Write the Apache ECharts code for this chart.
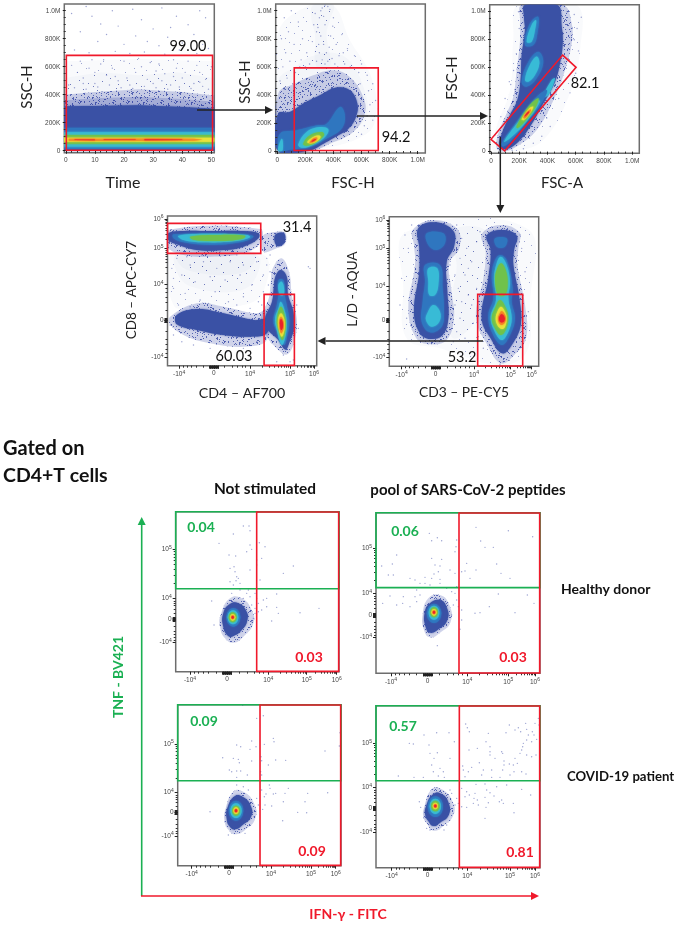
<!DOCTYPE html>
<html><head><meta charset="utf-8">
<style>html,body{margin:0;padding:0;background:#fff}#c{width:681px;height:929px;filter:blur(0.35px)}</style>
<script src="https://cdn.jsdelivr.net/npm/echarts@6/dist/echarts.min.js"></script>
</head><body><div id="c"></div>
<script>
// ---------- tick labels ----------
const linearYTicks = [0, 200000, 400000, 600000, 800000, 1000000];
const timeTicks = [0, 10, 20, 30, 40, 50];
const biexXLabels = ['-4', '0', '4', '5', '6'];
const biexYLabels6 = ['6', '5', '4', '0', '-4'];
const biexYLabels5 = ['5', '4', '0', '-4'];

// ---------- density contours: [level, [x,y], ...] ----------
const timeDensity = [
 [0,[-0.5,0],[51,0],[51,640],[25,655],[-0.5,640]],
 [0,[-0.5,0],[51,0],[51,520],[38,560],[25,540],[12,560],[-0.5,520]],
 [1,[-0.5,0],[51,0],[51,395],[40,420],[25,440],[10,420],[-0.5,400]],
 [1,[-0.5,0],[51,0],[51,350],[40,370],[25,385],[10,375],[-0.5,360]],
 [2,[-0.5,0],[51,0],[51,300],[40,312],[25,325],[10,320],[-0.5,318]],
 [3,[-0.5,12],[51,12],[51,165],[-0.5,165]],
 [4,[-0.5,30],[51,30],[51,132],[-0.5,132]],
 [5,[-0.5,50],[51,50],[51,112],[-0.5,112]],
 [6,[-0.5,64],[51,64],[51,92],[-0.5,92]],
 [7,[1,72],[12,70],[20,71],[32,70],[44,72],[47,78],[44,86],[30,88],[18,86],[1,85]],
 [8,[3,76],[10,75],[10,80],[3,81]],
 [8,[13,77],[24,76],[24,81],[13,80]],
 [8,[27,75],[40,76],[40,81],[27,82]]
];
const fscDensity = [
 [0,[7,838],[233,1040],[399,1040],[517,790],[660,552],[707,290],[636,124],[256,5],[7,0]],
 [0,[256,1040],[399,1040],[375,933],[351,838],[375,600],[280,600],[268,838],[244,933]],
 [0,[7,500],[126,600],[256,680],[399,700],[517,640],[612,460],[640,267],[541,136],[375,52],[256,5],[7,0]],
 [1,[7,409],[126,481],[256,540],[399,576],[517,528],[612,386],[624,267],[541,136],[375,52],[256,5],[7,0]],
 [2,[7,267],[90,278],[185,338],[304,397],[423,452],[517,433],[570,338],[560,243],[506,159],[434,112],[328,52],[233,5],[7,0]],
 [3,[19,124],[138,148],[280,183],[351,195],[446,314],[482,255],[458,159],[351,88],[233,29],[90,10],[19,5]],
 [4,[150,48],[209,136],[304,171],[363,155],[340,100],[245,40],[173,24]],
 [4,[5,5],[33,88],[38,5]],
 [5,[185,52],[233,112],[316,136],[333,112],[269,57],[204,38]],
 [6,[214,62],[257,100],[304,109],[304,90],[257,57]],
 [7,[228,57],[257,90],[285,95],[280,81],[252,62]],
 [8,[243,69],[261,83],[275,86],[271,79],[249,67]]
];
const fscAreaDensity = [
 [0,[194,1048],[607,1048],[631,726],[560,417],[371,83],[158,0],[17,0],[40,179],[135,440],[158,798]],
 [1,[217,1048],[513,1048],[572,917],[572,774],[525,583],[454,393],[324,155],[182,36],[87,0],[40,24],[52,131],[111,274],[158,393],[182,583],[206,798],[206,940]],
 [2,[241,1048],[470,1048],[501,893],[508,774],[489,631],[454,500],[371,345],[277,179],[194,71],[111,19],[59,36],[78,131],[135,262],[187,369],[210,512],[217,679],[241,869],[234,964]],
 [3,[241,762],[276,917],[335,964],[329,845],[300,762]],
 [4,[253,786],[288,905],[319,940],[312,869],[288,786]],
 [3,[217,500],[265,643],[335,714],[371,643],[324,524],[253,464]],
 [4,[241,512],[276,619],[324,679],[343,631],[312,548],[265,500]],
 [4,[371,393],[430,512],[454,524],[407,405]],
 [3,[76,60],[182,214],[312,381],[395,440],[359,345],[253,214],[147,83],[87,36]],
 [4,[92,71],[194,214],[324,369],[347,357],[241,202],[135,95]],
 [5,[182,183],[265,321],[336,381],[312,310],[229,202],[187,167]],
 [6,[217,231],[272,310],[300,321],[276,274],[234,226]],
 [7,[229,245],[272,298],[284,298],[265,269],[241,238]],
 [8,[236,250],[265,286],[272,283],[253,262]]
];
const cd4Density = [
 [0,[180,150],[460,150],[460,260],[400,300],[250,310],[190,300]],
 [0,[200,150],[440,150],[430,230],[370,260],[260,250],[210,220]],
 [0,[200,140],[430,140],[420,190],[350,210],[250,200],[210,180]],
 [1,[172,75],[450,72],[450,115],[400,145],[300,155],[220,150],[172,125]],
 [2,[175,85],[215,78],[300,78],[400,78],[445,85],[445,100],[400,125],[340,135],[260,135],[200,118],[175,105]],
 [3,[190,88],[400,88],[430,95],[390,112],[300,120],[220,112],[190,100]],
 [4,[205,92],[300,86],[410,90],[420,97],[380,108],[280,112],[220,105]],
 [5,[240,95],[320,90],[405,92],[395,102],[320,108],[250,104]],
 [1,[455,95],[500,80],[525,85],[525,115],[500,130],[460,140]],
 [2,[495,90],[522,85],[522,115],[500,122]],
 [1,[180,335],[260,295],[340,305],[440,325],[470,315],[470,405],[400,425],[300,415],[220,390],[180,358]],
 [2,[200,330],[260,312],[340,325],[430,345],[470,345],[470,385],[420,395],[340,390],[260,375],[200,358]],
 [1,[488,190],[515,160],[538,205],[545,270],[560,340],[555,400],[532,448],[498,428],[462,382],[452,340],[476,280],[482,230]],
 [2,[496,215],[512,195],[530,215],[534,270],[550,320],[552,370],[538,412],[526,434],[503,403],[472,372],[465,340],[486,290],[491,250]],
 [3,[505,225],[520,225],[525,275],[530,300],[538,350],[530,400],[522,420],[505,385],[490,350],[500,300],[505,270]],
 [4,[505,240],[515,230],[522,250],[520,270],[510,270]],
 [4,[512,290],[525,320],[530,360],[525,400],[515,420],[500,375],[495,340],[505,310]],
 [5,[512,305],[525,335],[527,370],[517,405],[505,375],[500,345]],
 [6,[513,325],[523,345],[523,375],[515,395],[505,365],[505,340]],
 [7,[513,335],[520,350],[520,372],[513,385],[508,365],[508,345]],
 [8,[513,342],[518,352],[518,368],[513,375],[510,360],[510,348]]
];
const cd3Density = [
 [0,[200,80],[560,70],[570,300],[560,440],[480,480],[300,430],[200,400],[190,250]],
 [0,[330,80],[440,80],[430,220],[410,340],[340,400],[330,300],[350,180]],
 [1,[218,75],[280,45],[352,72],[358,130],[328,175],[335,260],[342,340],[320,405],[270,418],[228,398],[205,310],[225,180],[222,120]],
 [2,[235,70],[285,52],[340,78],[342,125],[320,170],[322,260],[325,340],[308,390],[270,402],[240,385],[222,320],[238,200],[238,130]],
 [3,[260,85],[310,85],[315,115],[290,135],[265,120]],
 [3,[255,180],[300,180],[308,250],[312,320],[305,365],[270,382],[245,350],[248,290],[255,230]],
 [4,[265,190],[292,190],[295,240],[285,270],[268,270],[265,230]],
 [4,[262,325],[280,300],[300,320],[298,350],[275,365],[258,345]],
 [1,[425,88],[480,60],[538,82],[535,130],[532,180],[555,300],[558,400],[518,455],[482,475],[445,425],[408,340],[430,220],[437,140]],
 [2,[440,92],[485,75],[530,92],[522,135],[520,180],[538,280],[542,360],[515,420],[487,445],[455,405],[425,340],[445,220],[452,135]],
 [3,[465,100],[500,100],[495,125],[470,125]],
 [3,[480,150],[500,165],[518,250],[515,290],[525,340],[510,390],[485,420],[455,380],[445,330],[460,280],[455,210],[465,165]],
 [4,[482,155],[498,175],[510,230],[505,280],[515,340],[505,380],[485,405],[462,375],[452,335],[468,285],[462,220],[470,175]],
 [5,[483,175],[497,195],[503,235],[495,270],[475,270],[465,225],[470,195]],
 [5,[480,285],[498,310],[505,340],[497,375],[482,390],[465,370],[455,340],[465,310]],
 [6,[483,305],[495,320],[500,340],[495,365],[485,372],[472,360],[467,340],[473,318]],
 [7,[485,318],[495,330],[497,345],[490,358],[480,358],[474,342],[478,328]],
 [8,[485,328],[493,335],[494,345],[488,352],[480,350],[477,340],[480,332]]
];
// small panels: outer contours, then nested ellipses [level, cx, cy, rx, ry]
const notStimHealthyDensity = [
 [1,[272,375],[300,325],[335,325],[365,360],[370,400],[340,440],[310,458],[285,445],[270,410]],
 [2,[280,370],[300,342],[325,340],[348,362],[352,390],[335,420],[310,438],[295,438],[280,410]]
];
const notStimHealthyCore = [[3,310,382,21,28],[4,309,382,16,21],[5,308,382,12,15],[6,308,382,8,10],[7,308,382,5,6],[8,308,382,3.5,4]];
const stimHealthyDensity = [
 [1,[188,375],[205,325],[240,315],[268,345],[272,395],[240,428],[210,442],[192,420]],
 [2,[194,370],[210,340],[240,330],[260,352],[262,390],[235,418],[210,428],[197,410]]
];
const stimHealthyCore = [[3,222,370,22,29],[4,222,368,16,21],[5,222,367,12,15],[6,222,367,8,10],[7,222,367,5,6],[8,222,367,3.5,4]];
const notStimPatientDensity = [
 [1,[286,360],[310,305],[340,305],[372,340],[376,385],[345,420],[315,433],[296,420],[284,395]],
 [2,[292,355],[315,318],[340,322],[363,350],[363,380],[340,403],[315,418],[298,408],[290,385]]
];
const notStimPatientCore = [[3,318,362,22,30],[4,318,362,17,22],[5,318,362,12,15],[6,318,362,8,10],[7,318,362,5,6],[8,318,362,3.5,4]];
const stimPatientDensity = [
 [1,[222,355],[245,298],[275,298],[308,335],[310,375],[280,408],[250,422],[230,400],[220,380]],
 [2,[228,350],[250,312],[275,312],[296,340],[296,375],[270,398],[250,408],[235,393],[226,375]]
];
const stimPatientCore = [[3,256,350,23,31],[4,256,349,17,23],[5,256,348,13,16],[6,256,348,8,10],[7,256,348,5,6],[8,256,348,3.5,4]];

// ---------- sparse events ----------
const timeEvents = [[2,980],[7,1030],[9,960],[12,905],[16,1000],[18,890],[23,1010],[26,935],[30,870],[33,1020],[36,880],[38,960],[42,900],[46,1000],[48,950],[5,850],[11,780],[14,830],[20,760],[24,820],[28,780],[32,750],[35,810],[40,770],[44,830],[47,760],[3,720],[8,700],[17,710],[22,695],[27,705],[34,690],[39,720],[45,695],[49,730],[2,610],[4,560],[6,520],[8,590],[10,480],[12,620],[14,540],[16,590],[18,500],[20,640],[22,470],[24,560],[26,600],[28,510],[30,480],[32,620],[34,550],[36,470],[38,590],[40,520],[42,640],[44,480],[46,560],[48,510],[50,600],[1,470],[3,450],[7,440],[11,455],[15,470],[19,450],[23,445],[27,460],[31,450],[35,440],[39,455],[43,445],[47,460],[49,440],[5,640],[13,650],[25,660],[37,650],[45,610],[9,650],[29,630],[6,480],[17,530],[21,520],[33,500],[41,560],[46,490],[10,560],[31,570],[37,530]];
const fscEvents = [[50,950],[100,1000],[30,800],[80,850],[150,920],[60,700],[120,760],[180,800],[40,600],[90,640],[20,500],[70,520],[130,560],[170,650],[210,700],[250,780],[280,850],[300,950],[320,1020],[340,900],[360,1030],[380,820],[400,950],[420,760],[440,680],[460,830],[480,620],[500,730],[520,600],[550,680],[580,560],[600,620],[640,540],[680,480],[700,360],[720,300],[650,430],[620,180],[600,120],[680,220],[260,900],[270,980],[290,880],[310,820],[330,760],[350,700],[370,740],[300,700],[280,640],[320,650],[340,620],[360,640],[390,660],[410,620],[430,600],[230,620],[200,600],[160,600],[110,480],[50,440],[470,700],[540,500],[590,480],[660,330],[640,250],[310,1000],[340,1040],[330,960],[375,1010],[395,890],[295,760]];
const fscAreaEvents = [[180,700],[160,580],[140,480],[100,380],[70,250],[30,120],[560,420],[600,560],[620,720],[610,880],[640,960],[590,980],[130,500],[520,640],[420,180],[360,110],[300,60],[230,20],[150,10],[590,800],[540,1000],[200,880],[195,1000],[480,380],[395,240]];
const cd4Events = [[200,160],[240,180],[280,170],[320,190],[360,170],[400,180],[440,170],[215,210],[255,230],[300,215],[345,225],[390,210],[425,240],[225,265],[270,285],[315,260],[355,290],[400,275],[445,290],[190,250],[205,300],[460,210],[470,180],[185,190],[595,185],[600,190],[480,150],[470,160],[540,270],[560,300],[565,370],[550,465],[540,470],[500,470],[520,450],[180,360],[190,390],[215,410],[250,420],[300,430],[350,440],[400,430],[440,410],[455,300],[460,260],[475,240],[480,200],[190,220],[330,140],[380,150],[420,145],[230,155],[275,150],[420,310],[380,300],[295,295],[240,305]];
const cd3Events = [[195,90],[185,220],[200,340],[180,300],[205,130],[215,60],[350,60],[365,100],[380,130],[395,170],[410,110],[420,80],[360,160],[375,210],[355,250],[345,300],[360,340],[350,380],[375,400],[340,410],[395,300],[410,250],[385,270],[400,355],[415,395],[430,430],[490,470],[480,478],[200,462],[545,130],[555,200],[565,320],[540,90],[365,290],[385,190],[330,180],[345,210]];
const notStimHealthyEvents = [[340,108],[357,108],[360,122],[310,132],[267,160],[360,165],[388,158],[405,170],[365,178],[297,195],[317,198],[350,185],[395,205],[380,210],[300,235],[312,230],[315,245],[360,240],[380,225],[320,260],[300,275],[330,280],[310,285],[390,270],[460,250],[490,228],[410,325],[440,312],[400,330],[385,340],[410,350],[395,360],[440,352],[445,370],[510,368],[567,355],[425,393],[365,395],[375,370],[245,333],[252,405],[270,405],[350,310],[360,320],[375,310],[340,325],[330,300],[355,300],[380,325],[305,310],[365,345],[375,355],[385,365],[370,385],[325,265],[318,272]];
const stimHealthyEvents = [[208,130],[232,143],[245,152],[215,152],[290,150],[288,170],[285,185],[348,112],[362,153],[375,172],[400,172],[445,122],[518,140],[110,195],[97,222],[65,228],[100,255],[85,255],[215,205],[245,208],[225,225],[240,228],[235,245],[222,252],[195,262],[215,265],[240,268],[270,240],[285,250],[305,245],[320,220],[315,243],[348,240],[330,265],[410,222],[423,250],[450,265],[150,265],[165,270],[180,280],[195,280],[210,285],[240,280],[290,290],[130,320],[128,340],[110,345],[90,318],[68,340],[415,312],[502,315],[522,340],[465,368],[388,350],[360,368],[345,370],[305,390],[300,418],[232,467],[165,320],[170,335],[150,350],[285,310],[290,330],[295,350],[280,345],[275,375],[305,360],[170,300],[180,315],[260,295],[275,305]];
const notStimPatientEvents = [[338,46],[380,85],[400,77],[365,153],[430,145],[432,155],[320,165],[332,170],[360,178],[378,170],[403,163],[278,203],[310,205],[325,208],[328,218],[365,213],[393,200],[395,212],[437,210],[467,211],[585,183],[628,168],[630,128],[298,240],[305,245],[320,243],[332,243],[352,255],[320,262],[392,245],[395,255],[415,225],[418,285],[420,295],[395,300],[403,320],[408,312],[430,312],[437,310],[475,295],[465,310],[533,310],[593,308],[525,335],[503,367],[530,368],[458,392],[240,365],[405,345],[425,348],[398,358],[460,335],[320,285],[340,290],[355,300],[380,325],[385,345],[372,380],[345,430],[295,435]];
const stimPatientEvents = [[347,102],[352,113],[358,125],[478,105],[495,120],[505,113],[512,125],[527,100],[555,100],[565,85],[567,105],[530,118],[547,125],[468,128],[415,130],[408,155],[382,175],[357,180],[420,170],[420,185],[420,195],[455,185],[458,190],[435,205],[462,213],[495,205],[510,190],[518,170],[530,150],[545,155],[560,148],[535,135],[552,135],[558,195],[545,200],[530,195],[515,180],[520,160],[388,218],[338,228],[365,232],[340,240],[355,245],[400,240],[425,240],[458,240],[478,222],[490,225],[502,220],[462,225],[492,245],[515,245],[528,252],[480,255],[450,262],[425,262],[395,255],[345,260],[222,135],[297,128],[260,128],[237,165],[313,155],[178,160],[190,162],[240,190],[262,188],[252,205],[300,205],[245,225],[270,235],[250,245],[280,245],[265,258],[283,262],[145,258],[192,262],[220,262],[335,295],[350,305],[378,283],[405,282],[440,290],[470,285],[515,298],[410,300],[420,308],[375,310],[358,315],[345,320],[372,325],[382,330],[405,322],[432,318],[455,330],[460,340],[490,340],[542,315],[335,350],[350,352],[370,340],[385,345],[408,352],[415,338],[492,368],[405,385],[448,335],[320,325],[315,345],[325,340],[310,370],[208,335],[212,352],[230,415],[240,420],[290,405],[282,420],[300,300],[305,310]];

// ---------- gates ----------
const timeGate = [[0.2,681],[50.4,681],[50.4,3],[0.2,3]];
const fscGate = [[121,593],[719,593],[719,4],[121,4]];
const fscAreaGate = [[508,690],[603,602],[97,5],[0,88]];
const cd8Gate = [[172,55],[452,55],[452,145],[172,145]];
const cd4Gate = [[462,268],[553,268],[553,481],[462,481]];
const cd3Gate = [[413,268],[548,268],[548,483],[413,483]];
const quadGatesGreenLine = {F:296,G:293,H:272,I:272};
const quadGatesRedLeft = {F:380,G:297,H:390,I:328};

// ---------- colours / styles ----------
const GREEN='#1bb053', RED='#f0192b', DOT='#4a57ad';
// speckle texture for the low-density fringe of a flow plot (decoration only)
const speckleTile = [[3,5],[11,2],[19,8],[27,3],[36,6],[44,1],[7,13],[15,17],[24,12],[33,15],[41,11],[2,22],[10,26],[18,21],[29,24],[38,20],[46,27],[6,33],[14,30],[22,36],[31,32],[40,35],[1,42],[12,44],[20,40],[28,46],[35,41],[45,38]];
function makeTile(bg,dot,shifts){
 const c=document.createElement('canvas');c.width=c.height=48;const g=c.getContext('2d');
 g.fillStyle=bg;g.fillRect(0,0,48,48);g.fillStyle=dot;
 shifts.forEach(s=>speckleTile.forEach(p=>g.fillRect((p[0]+s[0])%48,(p[1]+s[1])%48,1,1)));
 return c;
}
const sparseFill={image:makeTile('rgba(72,86,172,0.03)','rgba(66,82,170,0.5)',[[0,0]]),repeat:'repeat'};
const denseFill={image:makeTile('rgba(62,80,170,0.25)','rgba(66,82,170,0.85)',[[0,0],[13,7],[25,19],[7,29],[31,11],[17,37],[41,23],[5,17],[37,43],[21,3],[29,33],[9,41]]),repeat:'repeat'};
const levelFill = [sparseFill,denseFill,'#3a51a5','#2f76bf','#38bbd6','#70c24b','#e9e23a','#f58b25','#e8222b'];

const panels = [
 {box:[64.3,4,150,148.7], x:[-0.5,51], y:[-14000,1048000], kind:'time', density:timeDensity.map(r=>[r[0],...r.slice(1).map(p=>[p[0],p[1]*1000])]), sm:0, events:timeEvents.map(p=>[p[0],p[1]*1000]), gates:[[timeGate.map(p=>[p[0],p[1]*1000]),RED]]},
 {box:[275.7,4,149.6,149], x:[-11000,1054000], y:[-14000,1048000], kind:'lin', density:fscDensity.map(r=>[r[0],...r.slice(1).map(p=>[p[0]*1000,p[1]*1000])]), sm:.4, events:fscEvents.map(p=>[p[0]*1000,p[1]*1000]), gates:[[fscGate.map(p=>[p[0]*1000,p[1]*1000]),RED]]},
 {box:[489.7,4.7,149.6,148.6], x:[-9000,1051000], y:[-12000,1050000], kind:'lin', density:fscAreaDensity.map(r=>[r[0],...r.slice(1).map(p=>[p[0]*1000,p[1]*1000])]), sm:.4, events:fscAreaEvents.map(p=>[p[0]*1000,p[1]*1000]), gates:[[fscAreaGate.map(p=>[p[0]*1000,p[1]*1000]),RED]]},
 {box:[167.5,216,149.2,149.7], x:[172,620], y:[33,482], xt:[207,311,420,540,612], yt:[42,130,238,347,457], yl:biexYLabels6, density:cd4Density, sm:.4, events:cd4Events, gates:[[cd8Gate,RED],[cd4Gate,RED]]},
 {box:[389.3,216.7,149.4,149.6], x:[148,596], y:[35,484], xt:[185,287,402,512,575], yt:[45,130,245,347,457], yl:biexYLabels6, density:cd3Density, sm:.4, events:cd3Events, gates:[[cd3Gate,RED]]},
 {box:[175.7,511.7,163.3,160], x:[137,627], y:[65,545], xt:[180,291,415,530,620], yt:[178,325,388,458], yl:biexYLabels5, density:notStimHealthyDensity, core:notStimHealthyCore, sm:.5, events:notStimHealthyEvents, q:'F'},
 {box:[376,512.7,164,160.6], x:[48,540], y:[68,550], xt:[93,203,322,445,525], yt:[175,310,375,443], yl:biexYLabels5, density:stimHealthyDensity, core:stimHealthyCore, sm:.5, events:stimHealthyEvents, q:'G'},
 {box:[177.7,704.7,163.3,161], x:[143,633], y:[44,527], xt:[185,297,423,543,617], yt:[162,307,368,438], yl:biexYLabels5, density:notStimPatientDensity, core:notStimPatientCore, sm:.5, events:notStimPatientEvents, q:'H'},
 {box:[376,705.7,164,162], x:[78,570], y:[47,533], xt:[125,233,352,480,555], yt:[160,293,355,427], yl:biexYLabels5, density:stimPatientDensity, core:stimPatientCore, sm:.5, events:stimPatientEvents, q:'I'}
];

const TICKFONT = {fontFamily:'Liberation Sans',fontSize:6.5,color:'#444'};
const supRich = {b:{fontFamily:'Liberation Sans',fontSize:6.5,color:'#444'},s:{fontFamily:'Liberation Sans',fontSize:5,color:'#444',padding:[0,0,4,0]}};
const biexFmt = (vals,labels)=>v=>{const l=labels[vals.indexOf(v)]; if(l==='0')return '{b|0}'; if(l===undefined) return ''; return l[0]==='-'?'{b|-10}{s|'+l.slice(1)+'}':'{b|10}{s|'+l+'}';};
const linFmt = v=> v===0?'0': v>=1e6?(v/1e6).toFixed(1)+'M': (v/1000)+'K';

function biexMinors(t,labels,isY){
 const out=[]; const z=labels.indexOf('0');
 const logs=[.301,.477,.602,.699,.778,.845,.903,.954];
 for(let i=0;i<t.length-1;i++){
  const a=t[i],b=t[i+1];
  if(i===z||i+1===z){
    const from=(i===z)?a:b, to=(i===z)?b:a;
    [.3,.5,.65,.78,.88].forEach(f=>out.push(from+(to-from)*f));
  } else {
    const lo=a,hi=b; logs.forEach(f=>out.push(isY?hi+(lo-hi)*f:lo+(hi-lo)*f));
  }
 }
 return out;
}
function zeroCluster(t,labels,half){const c=t[labels.indexOf('0')],o=[];for(let d=-half;d<=half;d+=2)o.push(c+d);return o;}

const grids=[],xAxes=[],yAxes=[],series=[];
panels.forEach((p,i)=>{
 grids.push({left:p.box[0],top:p.box[1],width:p.box[2],height:p.box[3],show:true,backgroundColor:'#fff',borderColor:'#6d6d6d',borderWidth:1.5,containLabel:false});
 const xi=xAxes.length, yi=yAxes.length;
 let xt,yt,xFmt,yFmt,xMinor,yMinor,xMaj,yMaj,inv=false;
 if(p.kind==='time'||p.kind==='lin'){
   yt=linearYTicks; yFmt=linFmt; yMaj=yt;
   yMinor=[50,100,150,250,300,350,450,500,550,650,700,750,850,900,950].map(v=>v*1000);
   if(p.kind==='time'){xt=timeTicks;xFmt=v=>''+v;xMaj=xt;xMinor=[2,4,6,8,12,14,16,18,22,24,26,28,32,34,36,38,42,44,46,48];}
   else {xt=linearYTicks;xFmt=linFmt;xMaj=xt;xMinor=yMinor;}
 } else {
   xt=p.xt;yt=p.yt;inv=true;
   xFmt=biexFmt(xt,biexXLabels);yFmt=biexFmt(yt,p.yl);
   xMaj=xt.concat(zeroCluster(xt,biexXLabels,14));yMaj=yt.concat(zeroCluster(yt,p.yl,6));
   xMinor=biexMinors(xt,biexXLabels,false);yMinor=biexMinors(yt,p.yl,true);
 }
 const base=(a)=>({type:'value',gridIndex:i,min:a[0],max:a[1],scale:true,splitLine:{show:false},axisLine:{show:false},z:3});
 xAxes.push({...base(p.x),position:'bottom',axisTick:{show:true,length:3,customValues:xMaj,lineStyle:{color:'#222',width:1}},axisLabel:{show:true,customValues:xt,formatter:xFmt,margin:4,hideOverlap:false,rich:supRich,...TICKFONT}});
 xAxes.push({...base(p.x),position:'bottom',axisTick:{show:true,length:2,customValues:xMinor,lineStyle:{color:'#333',width:1}},axisLabel:{show:false}});
 yAxes.push({...base(p.y),inverse:inv,position:'left',axisTick:{show:true,length:3,customValues:yMaj,lineStyle:{color:'#222',width:1}},axisLabel:{show:true,customValues:yt,formatter:yFmt,margin:4,hideOverlap:false,rich:supRich,...TICKFONT}});
 yAxes.push({...base(p.y),inverse:inv,position:'left',axisTick:{show:true,length:2,customValues:yMinor,lineStyle:{color:'#333',width:1}},axisLabel:{show:false}});

 const polys=p.density;
 series.push({type:'custom',xAxisIndex:xi,yAxisIndex:yi,clip:true,silent:true,z:2,data:polys.map(r=>[r[0]]),
  renderItem:(params,api)=>{
    const r=polys[params.dataIndex], fill=levelFill[r[0]];
    const st=r[0]>=2?{fill,shadowBlur:2,shadowColor:fill}:{fill};
    return {type:'polygon',shape:{points:r.slice(1).map(q=>api.coord(q)),smooth:p.sm},style:st};
  }});
 if(p.core){
  const core=p.core;
  series.push({type:'custom',xAxisIndex:xi,yAxisIndex:yi,clip:true,silent:true,z:4,data:core,
   renderItem:(params,api)=>{
     const r=core[params.dataIndex], c=api.coord([r[1],r[2]]), e=api.coord([r[1]+r[3],r[2]+r[4]]), fill=levelFill[r[0]];
     return {type:'ellipse',shape:{cx:c[0],cy:c[1],rx:Math.abs(e[0]-c[0]),ry:Math.abs(e[1]-c[1])},style:{fill,shadowBlur:1.5,shadowColor:fill}};
   }});
 }
 series.push({type:'scatter',xAxisIndex:xi,yAxisIndex:yi,silent:true,z:3,symbolSize:1.4,itemStyle:{color:DOT,opacity:.55},data:p.events});
 let gateList=(p.gates||[]).slice();
 if(p.q){
   const gl=quadGatesGreenLine[p.q], rl=quadGatesRedLeft[p.q];
   gateList=[[[[p.x[0],p.y[0]],[p.x[1],p.y[0]],[p.x[1],gl],[p.x[0],gl]],GREEN],[[[rl,p.y[0]+1],[p.x[1]-1,p.y[0]+1],[p.x[1]-1,p.y[1]-1],[rl,p.y[1]-1]],RED]];
 }
 series.push({type:'custom',xAxisIndex:xi,yAxisIndex:yi,silent:true,z:6,data:gateList.map((g,k)=>[k]),
  renderItem:(params,api)=>{
    const g=gateList[params.dataIndex];
    return {type:'polygon',shape:{points:g[0].map(q=>api.coord(q))},style:{fill:'none',stroke:g[1],lineWidth:1.6}};
  }});
});

// ---------- text ----------
const LATO='Lato';
const texts=[
 ['Time',123,183,16,'#222',0,400],['SSC-H',27,87,15,'#222',1,400],['SSC-H',245,82,15,'#222',1,400],['FSC-H',353,183,15,'#222',0,400],
 ['FSC-H',452,78,15,'#222',1,400],['FSC-A',562,183,15,'#222',0,400],['99.00',188,46,14.5,'#111',0,400],['94.2',396,137,14.5,'#111',0,400],['82.1',585,83,14.5,'#111',0,400],
 ['CD8 \u2013 APC-CY7',132,290,13.5,'#222',1,400],['CD4 \u2013 AF700',242,393,14.2,'#222',0,400],['31.4',297,227,14.5,'#111',0,400],['60.03',234,356,14.5,'#111',0,400],
 ['L/D - AQUA',353,289,13.8,'#222',1,400],['CD3 \u2013 PE-CY5',464,393,13.8,'#222',0,400],['53.2',462,357,14.5,'#111',0,400],
 ['Not stimulated',265,489,15.4,'#111',0,700],['pool of SARS-CoV-2 peptides',468,490,15,'#111',0,700],
 ['0.04',201,527,14,GREEN,0,700],['0.03',309,657,14,RED,0,700],['0.06',405,531,14,GREEN,0,700],['0.03',513,657,14,RED,0,700],
 ['0.09',204,721,14,GREEN,0,700],['0.09',312,851,14,RED,0,700],['0.57',403,726,14,GREEN,0,700],['0.81',520,852,14,RED,0,700],
 ['TNF - BV421',118,677,14,GREEN,1,700],['IFN-\u03b3 - FITC',348,914,14,RED,0,700]
];
const leftTexts=[['Gated on',3,449,20],['CD4+T cells',3,476,19.5],['Healthy donor',561,589,14],['COVID-19 patient',567,777,13.2]];
const graphics=[];
texts.forEach(t=>graphics.push({type:'text',x:t[1],y:t[2],rotation:t[5]?Math.PI/2:0,silent:true,z:20,
 style:{text:t[0],fill:t[4],font:`${t[6]} ${t[3]}px ${LATO}`,textAlign:'center',textVerticalAlign:'middle'}}));
leftTexts.forEach(t=>graphics.push({type:'text',x:t[1],y:t[2],silent:true,z:20,
 style:{text:t[0],fill:'#111',font:`700 ${t[3]}px ${LATO}`,textAlign:'left',textVerticalAlign:'middle'}}));
function arrow(x1,y1,x2,y2,col,w,hl,hw){
 const a=Math.atan2(y2-y1,x2-x1),bx=x2-hl*Math.cos(a),by=y2-hl*Math.sin(a),nx=-Math.sin(a)*hw,ny=Math.cos(a)*hw;
 graphics.push({type:'line',silent:true,z:18,shape:{x1,y1,x2:bx,y2:by},style:{stroke:col,lineWidth:w}});
 graphics.push({type:'polygon',silent:true,z:18,shape:{points:[[x2,y2],[bx+nx,by+ny],[bx-nx,by-ny]]},style:{fill:col}});
}
arrow(197,110,273,110,'#222',1.5,8,4);
arrow(357,116,488,116,'#222',1.5,8,4);
arrow(500.3,137,500.3,213,'#222',1.5,8,4);
arrow(483,341,317.5,341,'#222',1.5,8,4);
arrow(141.7,896,141.7,517,GREEN,1.6,8,4);
arrow(141,896,539,896,RED,1.6,8,4);

const chart=echarts.init(document.getElementById('c'),null,{renderer:'canvas',width:681,height:929});
chart.setOption({animation:false,backgroundColor:'#fff',tooltip:{show:false},grid:grids,xAxis:xAxes,yAxis:yAxes,series,graphic:graphics});
</script></body></html>
